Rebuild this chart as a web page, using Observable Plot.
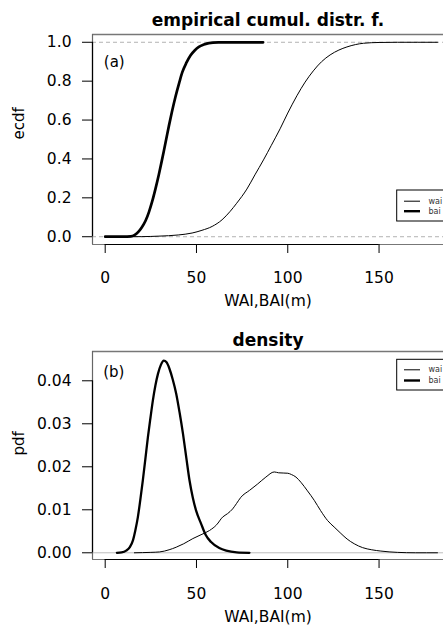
<!DOCTYPE html>
<html><head><meta charset="utf-8">
<script src="https://cdn.jsdelivr.net/npm/d3@7"></script>
<script src="https://cdn.jsdelivr.net/npm/@observablehq/plot@0.6"></script>
<style>
body{margin:0;background:#fff;overflow:hidden}
#c{width:443px;height:627px;overflow:hidden}
#c svg{display:block}
</style>
</head><body><div id="c"></div>
<script>
// ---- data ----
const ecdfBaiX = [0,10,14,16,18.4,20,22.1,24,25.7,27.5,29.4,31,32.1,33.5,34.9,36.5,38.5,40.5,42.2,44.5,46.7,49,51.3,54,56.8,62,70,86.5];
const ecdfBaiY = [0,0,0.002,0.008,0.027,0.047,0.082,0.128,0.18,0.245,0.32,0.39,0.44,0.505,0.57,0.64,0.72,0.79,0.845,0.895,0.932,0.958,0.976,0.988,0.996,0.999,1,1];
const ecdfWaiX = [0,20,29.4,40,47.6,53,58.6,64,68.5,72,77.6,82,86.7,91,95.8,100,105,109.5,114,118.5,123.2,128,132.4,137,141.5,150,160,182];
const ecdfWaiY = [0,0.0005,0.003,0.009,0.019,0.033,0.053,0.087,0.131,0.172,0.245,0.318,0.395,0.47,0.555,0.636,0.725,0.795,0.853,0.90,0.935,0.96,0.976,0.988,0.995,0.999,1,1];

const densBaiX = [6.4,9,11.5,13.5,15.2,16.5,17.9,19.2,20.6,22,23.4,24.8,26.1,27.5,28.9,30.5,32.1,33.6,35.2,37,38.9,40.8,42.6,44.4,46.2,48,49.8,52.5,55,58,62.5,66.3,72,79];
const densBaiY = [0,0.0001,0.0005,0.0013,0.0029,0.0052,0.0083,0.0122,0.0168,0.0218,0.0269,0.0314,0.0354,0.0389,0.0416,0.0437,0.0447,0.0443,0.0428,0.0403,0.037,0.0325,0.0277,0.0222,0.0168,0.0128,0.0098,0.0068,0.0042,0.0025,0.0011,0.0005,0.0001,0];
const densWaiX = [16,25,29.8,35,38.9,43,48,52.5,57.2,61,64.3,67,69.8,72,74.3,79,83.5,88,92.6,95,100,102,104.5,107.2,110.8,114.5,118,121.8,125.4,129.1,132.5,136.4,141,146,151,160,170,182];
const densWaiY = [0,0.0001,0.0002,0.0007,0.0013,0.0021,0.0033,0.0042,0.0052,0.0065,0.0083,0.0091,0.0102,0.0115,0.0129,0.0145,0.016,0.0176,0.0188,0.0186,0.0185,0.0182,0.0176,0.0164,0.0144,0.0122,0.0098,0.0075,0.006,0.0045,0.0032,0.0021,0.0012,0.0007,0.0004,0.0001,0,0];

const xTicks = [0,50,100,150];
const ecdfTicks = [0,0.2,0.4,0.6,0.8,1.0];
const pdfTicks = [0,0.01,0.02,0.03,0.04];
const seriesNames = ["wai","bai"];

const toRows = (xs, ys, s) => xs.map((x,i)=>({x, y: ys[i], s}));

const W = 443;
const xDomain = [-6.95, 185.3];
const FONT = "DejaVu Sans";

function panel(cfg){
  const {H, top, bottom, yDomain, ticks, fmt, title, titleDy, ylab, tag, tagDy, tagDx,
         rows, thick, refLines, refDash, refColor, tickPad, legTop, legBot, legY1, legY2} = cfg;
  const sx = d3.scaleLinear(xDomain, [92, W]);
  const sy = d3.scaleLinear(yDomain, [H - bottom, top]);
  const lx1 = sx.invert(396.7), lx2 = sx.invert(470);
  const ly1 = sy.invert(legBot), ly2 = sy.invert(legTop);
  const segA = sx.invert(404), segB = sx.invert(420), txtX = sx.invert(428);
  return Plot.plot({
    width: W, height: H,
    marginLeft: 92, marginRight: 0, marginTop: top, marginBottom: bottom,
    x: {domain: xDomain},
    y: {domain: yDomain},
    style: {fontFamily: FONT, background: "white", color: "black"},
    marks: [
      Plot.ruleY(refLines, {stroke: refColor, strokeWidth: 1, strokeDasharray: refDash}),
      Plot.ruleY([yDomain[1]], {stroke: "#777", strokeWidth: 1.6}),
      Plot.ruleY([yDomain[0]], {stroke: "#777", strokeWidth: 1.2}),
      Plot.ruleX([xDomain[0]], {stroke: "#666", strokeWidth: 1.2}),
      Plot.ruleY([yDomain[0]], {x1: () => xTicks[0], x2: () => xTicks[xTicks.length-1], stroke: "black", strokeWidth: 1.2}),
      Plot.ruleX([xDomain[0]], {y1: () => ticks[0], y2: () => ticks[ticks.length-1], stroke: "black", strokeWidth: 1.2}),
      Plot.axisX({ticks: xTicks, tickSize: 9, tickPadding: tickPad, fontSize: 15.5, tickFormat: d => String(d), label: null, stroke: "black"}),
      Plot.axisY({ticks: ticks, tickSize: 10, tickPadding: 11, fontSize: 15.5, tickFormat: fmt, label: null}),
      Plot.line(rows, {x: "x", y: "y", z: "s", stroke: "black",
        strokeWidth: d => d.s === "bai" ? thick : 1, curve: "monotone-x"}),
      Plot.rect([0], {x1: () => lx1, x2: () => lx2, y1: () => ly1, y2: () => ly2, fill: "white", stroke: "black", strokeWidth: 1}),
      Plot.ruleY([sy.invert(legY1)], {x1: () => segA, x2: () => segB, stroke: "black", strokeWidth: 1}),
      Plot.ruleY([sy.invert(legY2)], {x1: () => segA, x2: () => segB, stroke: "black", strokeWidth: 2.4}),
      Plot.text(seriesNames, {x: () => txtX, y: (d,i) => sy.invert(i === 0 ? legY1 : legY2), text: d => d, textAnchor: "start", fontSize: 8, fill: "#333"}),
      Plot.text([title], {text: d => d, frameAnchor: "top", lineAnchor: "middle", dy: titleDy, fontWeight: "bold", fontSize: 17}),
      Plot.text([ylab], {text: d => d, frameAnchor: "left", lineAnchor: "middle", dx: -73, rotate: -90, fontSize: 15}),
      Plot.text(["WAI,BAI(m)"], {text: d => d, frameAnchor: "bottom", lineAnchor: "middle", dy: cfg.xlabDy, fontSize: 15.5}),
      Plot.text([tag], {text: d => d, frameAnchor: "top-left", lineAnchor: "middle", dx: tagDx, dy: tagDy, textAnchor: "start", fontSize: 15})
    ]
  });
}

const rowsA = [...toRows(ecdfWaiX, ecdfWaiY, "wai"), ...toRows(ecdfBaiX, ecdfBaiY, "bai")];
const rowsB = [...toRows(densWaiX, densWaiY, "wai"), ...toRows(densBaiX, densBaiY, "bai")];

const c = document.getElementById("c");
c.appendChild(panel({
  H: 313, top: 34, bottom: 69, yDomain: [-0.04, 1.04], ticks: ecdfTicks, fmt: d => d.toFixed(1),
  title: "empirical cumul. distr. f.", titleDy: -14.4, ylab: "ecdf", tag: "(a)", tagDx: 11.3, tagDy: 28,
  rows: rowsA, thick: 2.7, refLines: [0, 1], refDash: "4,3", refColor: "#b3b3b3", tickPad: 18.7,
  xlabDy: 56.7, legTop: 190, legBot: 221, legY1: 200.7, legY2: 210.7
}));
c.appendChild(panel({
  H: 314, top: 38, bottom: 68, yDomain: [-0.00156, 0.04681], ticks: pdfTicks, fmt: d => d.toFixed(2),
  title: "density", titleDy: -10.7, ylab: "pdf", tag: "(b)", tagDx: 10.7, tagDy: 20.5,
  rows: rowsB, thick: 2.3, refLines: [0], refDash: null, refColor: "#bdbdbd", tickPad: 19.7,
  xlabDy: 57.7, legTop: 46.3, legBot: 77, legY1: 56.3, legY2: 67
}));
</script>
</body></html>
